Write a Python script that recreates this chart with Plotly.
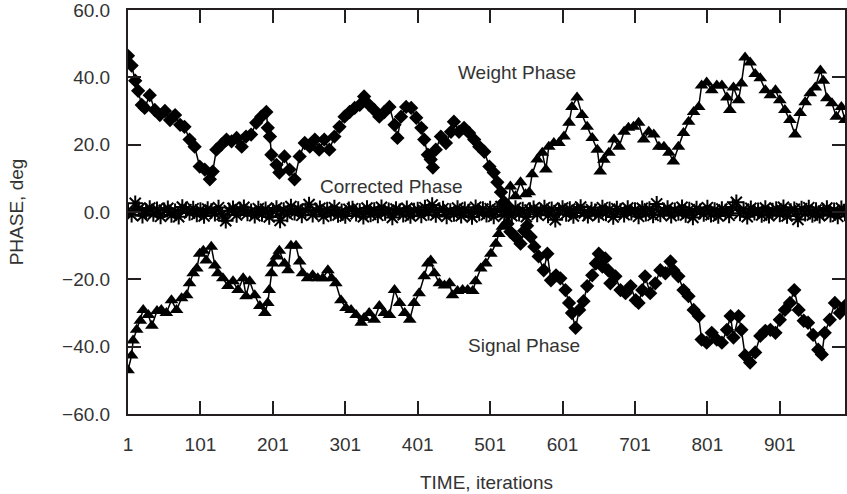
import plotly.graph_objects as go

# Diamond-marker series (starts high, ends low)
diamond_iter = [1, 6, 11, 15, 20, 24, 31, 38, 45, 52, 59, 66, 73, 79, 86, 93, 100, 107, 114, 118,
                123, 130, 137, 144, 151, 158, 164, 171, 178, 185, 192, 194, 197, 199, 206, 210, 217, 224, 231, 238,
                245, 252, 259, 265, 272, 279, 286, 293, 300, 307, 314, 321, 327, 334, 341, 348, 355, 362, 369, 373,
                378, 385, 392, 399, 406, 410, 415, 419, 422, 426, 433, 440, 447, 451, 458, 465, 472, 479, 486, 493,
                500, 506, 511, 516, 520, 522, 525, 529, 536, 543, 548, 552, 557, 562, 568, 575, 580, 585, 592, 598,
                605, 610, 614, 619, 624, 630, 635, 642, 647, 651, 656, 660, 664, 667, 674, 681, 688, 695, 702, 706,
                711, 715, 722, 729, 736, 743, 750, 754, 761, 768, 775, 782, 789, 793, 800, 807, 814, 821, 828, 833,
                837, 844, 848, 853, 860, 867, 874, 881, 888, 895, 901, 908, 915, 921, 927, 934, 940, 947, 954, 959,
                963, 970, 977, 984, 991, 998]
diamond_phase = [46.4, 43.5, 39.0, 36.0, 31.8, 30.9, 34.7, 30.3, 28.8, 30.0, 27.3, 28.8, 25.9, 25.3, 21.5, 19.4, 13.5, 12.6, 9.7, 12.0,
                 18.5, 20.0, 21.5, 21.0, 22.0, 19.4, 22.4, 23.0, 26.5, 28.3, 29.7, 25.0, 22.4, 17.0, 14.0, 11.7, 16.5, 12.6, 9.7, 16.5,
                 20.5, 19.4, 21.5, 18.5, 21.5, 18.5, 22.4, 25.3, 28.3, 29.7, 30.9, 31.8, 34.3, 31.8, 30.3, 28.3, 29.7, 31.2, 25.9, 22.0,
                 28.3, 31.2, 30.9, 28.0, 25.0, 21.5, 17.0, 15.6, 13.2, 18.5, 22.4, 20.5, 23.8, 26.8, 23.8, 25.0, 23.5, 21.5, 19.4, 17.9,
                 13.5, 11.7, 8.8, 5.9, 3.0, 0.5, -3.5, -5.9, -7.4, -9.4, -5.6, -4.1, -7.4, -10.3, -13.2, -17.3, -12.4, -20.3, -18.8, -19.7,
                 -23.2, -27.0, -30.0, -34.4, -29.1, -26.5, -22.0, -18.8, -15.3, -12.4, -16.2, -13.8, -17.3, -21.2, -19.1, -23.2, -24.1, -22.0, -26.2, -27.0,
                 -23.2, -19.1, -24.1, -21.2, -17.3, -18.2, -14.7, -17.3, -19.1, -23.2, -25.0, -29.1, -30.9, -37.9, -38.8, -35.9, -37.9, -38.8, -35.0, -30.9,
                 -37.3, -30.9, -35.0, -42.6, -44.7, -41.7, -36.8, -35.3, -35.0, -35.9, -32.0, -29.1, -27.0, -23.2, -29.1, -32.3, -32.9, -36.5, -40.9, -42.3,
                 -35.9, -32.0, -27.0, -30.0, -27.9, -29.0]

# Triangle-marker series (starts low, ends high)
triangle_iter = [1, 6, 8, 13, 18, 22, 29, 34, 41, 47, 54, 61, 68, 75, 82, 86, 91, 96, 100, 105,
                 109, 116, 121, 125, 132, 139, 146, 153, 160, 164, 169, 176, 183, 190, 194, 196, 199, 201, 206, 210,
                 217, 222, 226, 233, 238, 242, 249, 256, 263, 270, 277, 282, 288, 295, 302, 309, 316, 323, 327, 334,
                 341, 348, 355, 362, 369, 376, 383, 390, 396, 403, 410, 415, 419, 424, 431, 438, 445, 449, 456, 463,
                 470, 477, 481, 488, 495, 502, 509, 513, 518, 522, 526, 529, 536, 543, 550, 555, 559, 566, 573, 578,
                 582, 589, 596, 603, 610, 614, 621, 628, 635, 642, 649, 653, 658, 665, 672, 679, 686, 692, 699, 706,
                 713, 720, 727, 734, 741, 748, 754, 761, 768, 775, 782, 789, 793, 800, 807, 814, 821, 828, 832, 837,
                 844, 848, 853, 860, 867, 874, 881, 888, 895, 901, 908, 915, 922, 929, 936, 943, 950, 957, 961, 966,
                 973, 979, 986, 991, 998]
triangle_phase = [-47.0, -42.6, -38.2, -35.0, -32.3, -29.1, -30.6, -33.8, -29.4, -29.1, -30.0, -26.2, -29.1, -25.6, -24.7, -21.2, -18.2, -16.8, -12.4, -11.5,
                  -14.4, -10.3, -15.9, -18.2, -19.7, -22.0, -20.6, -23.2, -19.7, -25.0, -20.6, -24.7, -27.9, -30.0, -27.0, -23.2, -18.2, -15.3, -13.2, -11.5,
                  -15.3, -17.3, -10.0, -10.0, -14.7, -18.2, -19.7, -18.8, -19.7, -19.7, -17.3, -19.7, -21.2, -26.2, -28.5, -29.1, -30.6, -32.9, -31.5, -30.0,
                  -32.0, -27.9, -30.0, -30.6, -23.2, -27.0, -30.0, -32.0, -27.0, -24.1, -19.1, -15.3, -14.4, -18.2, -21.2, -21.8, -21.2, -24.7, -23.5, -23.2,
                  -23.2, -23.5, -20.6, -16.8, -15.3, -12.4, -9.4, -6.5, -4.4, -0.5, 2.0, 7.6, 4.7, 8.8, 5.3, 5.9, 11.2, 15.6, 17.6, 12.6,
                  19.4, 20.5, 20.5, 22.4, 26.5, 31.2, 34.0, 28.8, 25.3, 22.0, 18.5, 12.0, 15.5, 17.6, 21.5, 19.4, 23.8, 25.0, 25.3, 26.5,
                  21.5, 23.8, 23.0, 19.4, 19.4, 17.6, 15.0, 19.4, 23.5, 26.8, 29.7, 31.2, 37.6, 38.5, 36.2, 37.6, 37.6, 34.0, 30.3, 37.0,
                  33.2, 38.2, 45.9, 44.4, 41.0, 39.7, 36.2, 34.7, 36.2, 33.2, 30.3, 27.3, 23.0, 29.4, 32.6, 35.3, 37.0, 42.0, 39.0, 33.8,
                  32.3, 28.3, 31.2, 27.3, 29.0]

# Corrected phase (every 5 iterations)
corrected_iter = list(range(1, 1000, 5))
corrected_phase = [0.4, -0.8, 2.6, 0.9, -1.1, 0.3, 1.2, -0.6, 0.8, -1.3,
                   0.5, 1.1, -0.9, 0.2, -1.4, 1.5, 0.7, -0.3, 1.0, -0.7,
                   0.6, -1.2, 0.9, 0.3, -0.5, 1.3, -0.8, -2.6, 0.4, 1.1,
                   -0.9, 0.7, 1.4, -0.4, 0.2, -1.1, 1.0, -0.6, 0.8, -1.5,
                   0.3, 1.2, -2.5, 0.6, -0.7, 1.6, -0.2, 0.9, -1.0, 0.5,
                   2.2, -0.8, 0.4, 1.1, -1.3, 0.7, -0.4, 1.3, -0.9, 0.2,
                   -1.2, 0.8, 1.0, -0.5, 0.3, -1.4, 1.2, -0.7, 0.6, -1.0,
                   1.4, -0.3, 0.5, -1.6, 0.9, 0.2, -0.8, 1.1, -1.2, 0.4,
                   0.7, -1.0, 1.3, -0.2, 2.1, -0.9, 0.6, 1.0, -1.3, 0.3,
                   -0.6, 1.2, -1.1, 0.8, 0.1, -1.5, 1.4, -0.4, 0.9, -0.8,
                   1.0, -1.3, 0.5, 1.6, -0.9, 0.3, -1.1, 1.2, -0.5, 0.7,
                   -1.4, 0.6, 1.1, -0.7, 0.2, 1.3, -1.0, 0.8, -2.3, 0.4,
                   1.2, -0.6, 0.9, -1.2, 0.5, 1.5, -0.3, -1.1, 0.7, 0.2,
                   -0.9, 1.3, -0.4, 0.8, -1.5, 1.0, 0.3, -0.8, 1.2, -0.2,
                   0.6, -1.3, 1.1, -0.5, 0.9, -1.0, 2.4, -0.7, 0.4, 1.2,
                   -1.1, 0.5, -0.3, 1.4, -0.9, 0.7, -1.6, 1.0, 0.2, -0.6,
                   1.3, -0.8, 0.6, -1.2, 0.9, 0.1, -1.0, 1.5, 2.9, -0.4,
                   0.8, -1.4, 1.1, -0.2, 0.5, -0.9, 1.2, -1.1, 0.4, 0.9,
                   -0.7, 1.4, -1.2, 0.3, 0.8, -2.2, 1.0, -0.5, 1.3, -0.9,
                   0.6, -1.1, 0.2, 1.2, -0.8, 0.5, -1.3, 1.1, -0.4, 0.7]

x_tickvals = [1, 101, 201, 301, 401, 501, 601, 701, 801, 901]
x_ticktext = ["1", "101", "201", "301", "401", "501", "601", "701", "801", "901"]
y_tickvals = [-60, -40, -20, 0, 20, 40, 60]
y_ticktext = ["\u221260.0", "\u221240.0", "\u221220.0", "0.0", "20.0", "40.0", "60.0"]

labels = ["Weight Phase", "Corrected Phase", "Signal Phase"]
label_x = [538, 365, 548]
label_y = [41.5, 7.6, -39.7]

FONT = "Liberation Sans, Arial, sans-serif"
INK = "#231f20"
TXT = "#333333"

fig = go.Figure()
fig.add_trace(go.Scatter(x=corrected_iter, y=corrected_phase, mode="lines+markers",
                         line=dict(color="black", width=2),
                         marker=dict(symbol="asterisk-open", size=13, color="black",
                                     line=dict(color="black", width=2)),
                         showlegend=False))
fig.add_trace(go.Scatter(x=diamond_iter, y=diamond_phase, mode="lines+markers",
                         line=dict(color="black", width=1.5),
                         marker=dict(symbol="diamond", size=11, color="black"),
                         showlegend=False))
fig.add_trace(go.Scatter(x=triangle_iter, y=triangle_phase, mode="lines+markers",
                         line=dict(color="black", width=1.5),
                         marker=dict(symbol="triangle-up", size=12, color="black"),
                         showlegend=False))

for t, xx, yy in zip(labels, label_x, label_y):
    fig.add_annotation(x=xx, y=yy, text=t, showarrow=False,
                       font=dict(family=FONT, size=19, color=TXT))

fig.update_layout(
    width=847, height=494,
    margin=dict(l=128, r=0, t=10, b=80),
    paper_bgcolor="white", plot_bgcolor="white",
    font=dict(family=FONT, size=19, color=TXT),
    xaxis=dict(range=[1, 991], tickvals=x_tickvals, ticktext=x_ticktext,
               showgrid=False, zeroline=False, showline=True, linecolor=INK, linewidth=2,
               mirror="ticks", ticks="inside", ticklen=13, tickwidth=1.5, tickcolor=INK,
               ticklabelstandoff=12, ticklabeloverflow="allow",
               title=dict(text="TIME, iterations", standoff=22, font=dict(size=19, color=TXT))),
    yaxis=dict(range=[-60, 60], tickvals=y_tickvals, ticktext=y_ticktext,
               showgrid=False, zeroline=False, showline=True, linecolor=INK, linewidth=2,
               mirror="ticks", ticks="inside", ticklen=13, tickwidth=1.5, tickcolor=INK,
               ticklabelstandoff=12, ticklabeloverflow="allow",
               title=dict(text="PHASE, deg", standoff=33, font=dict(size=19, color=TXT))),
)

fig.write_html("out.html")
